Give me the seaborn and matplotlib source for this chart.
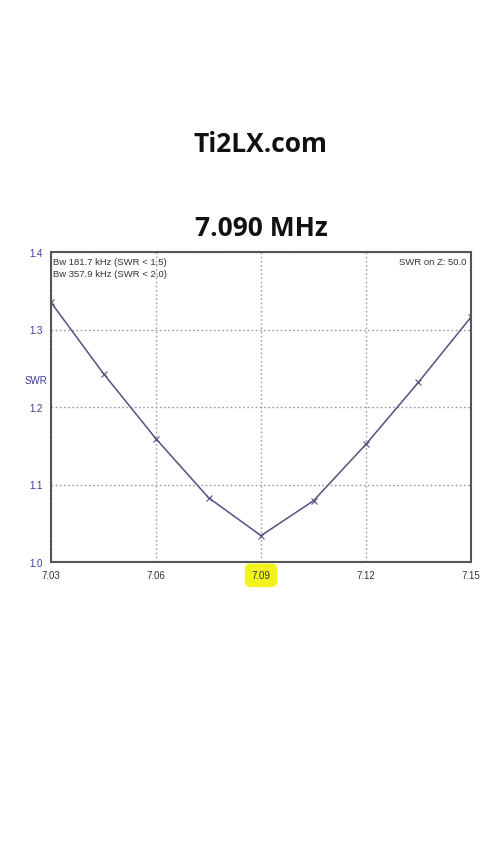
import matplotlib
matplotlib.use("Agg")
import matplotlib.pyplot as plt
import seaborn as sns
import pandas as pd

freq = [7.03, 7.045, 7.06, 7.075, 7.09, 7.105, 7.12, 7.135, 7.15]
swr = [1.335, 1.243, 1.159, 1.083, 1.034, 1.079, 1.152, 1.232, 1.316]
xticks = [7.03, 7.06, 7.09, 7.12, 7.15]
xtick_labels = ["7.03", "7.06", "7.09", "7.12", "7.15"]
yticks = [1.0, 1.1, 1.2, 1.3, 1.4]
ytick_labels = ["1.0", "1.1", "1.2", "1.3", "1.4"]

sns.set_style("white")
plt.rcParams['font.family'] = ['Liberation Sans', 'DejaVu Sans']

df = pd.DataFrame({"freq": freq, "swr": swr})

fig = plt.figure(figsize=(4.8, 8.54), dpi=100)
ax = fig.add_axes([51/480, 1-563/854, 420/480, 310/854])

sns.lineplot(data=df, x="freq", y="swr", ax=ax, color="#525280", linewidth=1.1,
             marker="x", markersize=4, markeredgecolor="#525280", markeredgewidth=0.8)

ax.set_xlim(7.03, 7.15)
ax.set_ylim(1.0, 1.4)
ax.set_xticks(xticks)
ax.set_xticklabels(xtick_labels, fontsize=7, color="#333333")
ax.set_yticks(yticks)
ax.set_yticklabels(ytick_labels, fontsize=7, color="#3a3a9a")
ax.tick_params(axis="both", length=0, pad=6)
ax.grid(True, linestyle=(0, (1.2, 1.8)), color="#9a9aaa", linewidth=1.0)
for s in ax.spines.values():
    s.set_color("#555555")
    s.set_linewidth(1.5)
ax.set_xlabel("")
ax.set_ylabel("SWR", rotation=0, fontsize=7, color="#3a3a9a")
ax.yaxis.set_label_coords(-0.035, 0.57)

# highlight 7.09 label
for lbl in ax.get_xticklabels():
    if lbl.get_text() == "7.09":
        lbl.set_bbox(dict(boxstyle="round,pad=0.7,rounding_size=0.6",
                          facecolor="#f2f21c", edgecolor="none"))

ax.text(0.005, 0.985, "Bw 181.7 kHz (SWR < 1.5)\nBw 357.9 kHz (SWR < 2.0)",
        transform=ax.transAxes, ha="left", va="top", fontsize=6.8, color="#333333",
        linespacing=1.45)
ax.text(0.99, 0.985, "SWR on Z: 50.0", transform=ax.transAxes, ha="right", va="top",
        fontsize=6.8, color="#333333")

fig.text(261/480, 1-145/854, "Ti2LX.com", ha="center", va="center", fontsize=19,
         fontweight="bold", family=["Open Sans", "DejaVu Sans"], color="#111111")
fig.text(261/480, 1-228/854, "7.090 MHz", ha="center", va="center", fontsize=19,
         fontweight="bold", family=["Open Sans", "DejaVu Sans"], color="#111111")

fig.savefig("out.png", dpi=100, facecolor="white")
